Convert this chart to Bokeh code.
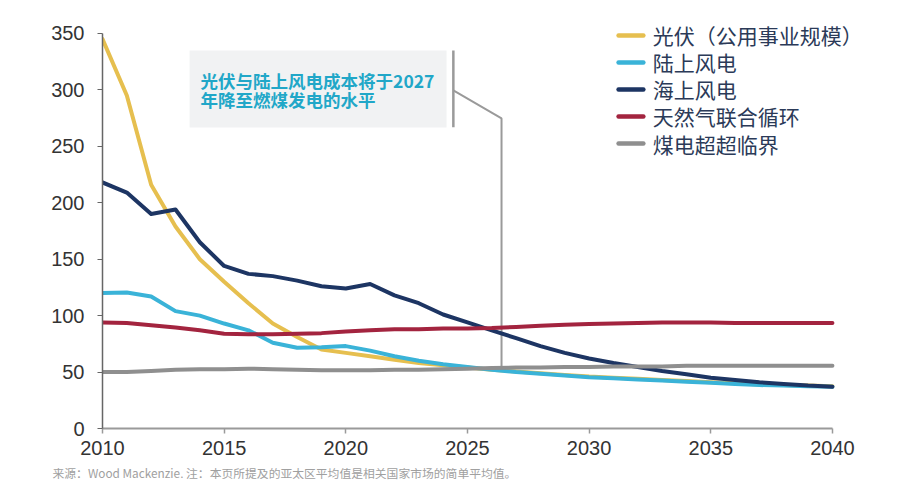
from bokeh.plotting import figure
from bokeh.models import Range1d, FixedTicker, BoxAnnotation, Label, Title
from bokeh.embed import file_html
from bokeh.resources import INLINE

years = list(range(2010, 2041))
solar = [345, 295, 216, 179, 150, 130, 111, 93, 81, 70, 67, 64, 61, 58, 56, 54, 52, 50.5, 49, 47.5,
         46, 45, 44, 43, 42, 41, 40, 39, 38.5, 38, 37.5]
onshore = [120, 120.5, 117, 104, 100, 93, 87, 76, 71.5, 72, 73, 69, 64, 60, 57, 54.5, 52, 50, 48.5, 47,
           45.5, 44.5, 43.5, 42.5, 41.5, 40.5, 39.5, 38.5, 38, 37.5, 37]
offshore = [218, 209, 190, 194, 165, 144, 137, 135, 131, 126, 124, 128, 118, 111, 101, 94, 87, 80, 73, 67,
            62, 58, 54.5, 51, 48, 45, 43, 41, 39.5, 38, 37]
gas = [94, 93.5, 91.5, 89.5, 87, 84, 83.5, 83.5, 84, 84.5, 86, 87, 88, 88, 88.5, 88.5, 89, 90, 91, 92,
       92.5, 93, 93.5, 94, 94, 94, 93.5, 93.5, 93.5, 93.5, 93.5]
coal = [50, 50, 51, 52, 52.5, 52.5, 53, 52.5, 52, 51.5, 51.5, 51.5, 52, 52, 52.5, 53, 53.5, 54, 54, 54.5,
        54.5, 55, 55, 55, 55.5, 55.5, 55.5, 55.5, 55.5, 55.5, 55.5]

series_names = ["光伏（公用事业规模）", "陆上风电", "海上风电", "天然气联合循环", "煤电超超临界"]
series_colors = ["#E6BF4F", "#3AB3D8", "#1D3563", "#A3243F", "#8F8F8F"]
x_ticks = [2010, 2015, 2020, 2025, 2030, 2035, 2040]
y_ticks = [0, 50, 100, 150, 200, 250, 300, 350]

note_lines = ["光伏与陆上风电成本将于2027", "年降至燃煤发电的水平"]
footnote = "来源：Wood Mackenzie. 注：本页所提及的亚太区平均值是相关国家市场的简单平均值。"

# callout geometry (annotation positions, in axis units)
callout_x = [2024.42, 2024.42, None, 2024.42, 2026.4, 2026.4]
callout_y = [335, 267, None, 299.5, 274.7, 54]

# legend placement (annotation positions, in axis units)
legend_x0, legend_x1, legend_tx = 2031.21, 2032.23, 2032.62
legend_y = [348.2, 324.3, 300.4, 276.5, 252.5]

CJK = "Noto Sans CJK SC"
NUM = "Liberation Sans"

p = figure(width=892, height=492, output_backend="svg", toolbar_location=None,
           x_range=Range1d(2010, 2042.14), y_range=Range1d(0, 366.8),
           min_border_left=102, min_border_right=8, min_border_top=14, min_border_bottom=64)
p.outline_line_color = None
p.xgrid.visible = False
p.ygrid.visible = False
p.background_fill_color = "white"

# annotation box
p.add_layout(BoxAnnotation(left=2013.58, right=2024.14, bottom=266.7, top=334.9,
                           fill_color="#F1F2F3", fill_alpha=1, line_color=None, level="underlay"))
for i, t in enumerate(note_lines):
    p.add_layout(Label(x=2014.03, y=308.4 - 16.9 * i, text=t, text_font=CJK, text_font_size="17.5px",
                       text_font_style="bold", text_color="#21A7C8", text_baseline="middle"))

# callout lines
xs1 = callout_x[0:2]; ys1 = callout_y[0:2]
xs2 = callout_x[3:6]; ys2 = callout_y[3:6]
p.line(xs1, ys1, line_color="#9A9A9A", line_width=2.5)
p.line(xs2, ys2, line_color="#9A9A9A", line_width=2)

data = [solar, onshore, offshore, gas, coal]
for vals, name, col in zip(data, series_names, series_colors):
    p.line(years, vals, line_color=col, line_width=4, line_join="round", line_cap="round")

# legend (drawn by hand for exact placement)
p.segment(x0=[legend_x0] * 5, y0=legend_y, x1=[legend_x1] * 5, y1=legend_y,
          line_color=series_colors, line_width=4.5, line_cap="round")
for name, ly in zip(series_names, legend_y):
    p.add_layout(Label(x=legend_tx, y=ly, text=name, text_font=CJK, text_font_size="21px",
                       text_color="#2B3A58", text_baseline="middle"))

# axes
p.xaxis.ticker = FixedTicker(ticks=x_ticks)
p.yaxis.ticker = FixedTicker(ticks=y_ticks)
p.xaxis.bounds = (2010, 2040)
p.yaxis.bounds = (0, 350)
p.xaxis.minor_tick_line_color = None
p.yaxis.minor_tick_line_color = None
p.xaxis.major_tick_out = 5
p.xaxis.major_tick_in = 0
p.yaxis.major_tick_out = 5
p.yaxis.major_tick_in = 0
p.xaxis.axis_line_color = "#9A9A9A"
p.xaxis.axis_line_width = 2
p.xaxis.major_tick_line_color = "#9A9A9A"
p.xaxis.major_tick_line_width = 1.5
p.yaxis.axis_line_color = "#666666"
p.yaxis.axis_line_width = 1.5
p.yaxis.major_tick_line_color = "#666666"
p.yaxis.major_tick_line_width = 1.2
for ax in (p.xaxis, p.yaxis):
    ax.major_label_text_font = NUM
    ax.major_label_text_font_size = "20px"
    ax.major_label_text_color = "#333333"
p.xaxis.major_label_standoff = 7
p.yaxis.major_label_standoff = 13

# footnote (below the x axis)
p.add_layout(Title(text=footnote, text_font=CJK, text_font_size="11.8px", text_font_style="normal",
                   text_color="#A0A0A0", align="left", offset=-50, standoff=9), "below")

open("out.html", "w").write(file_html(p, INLINE))
